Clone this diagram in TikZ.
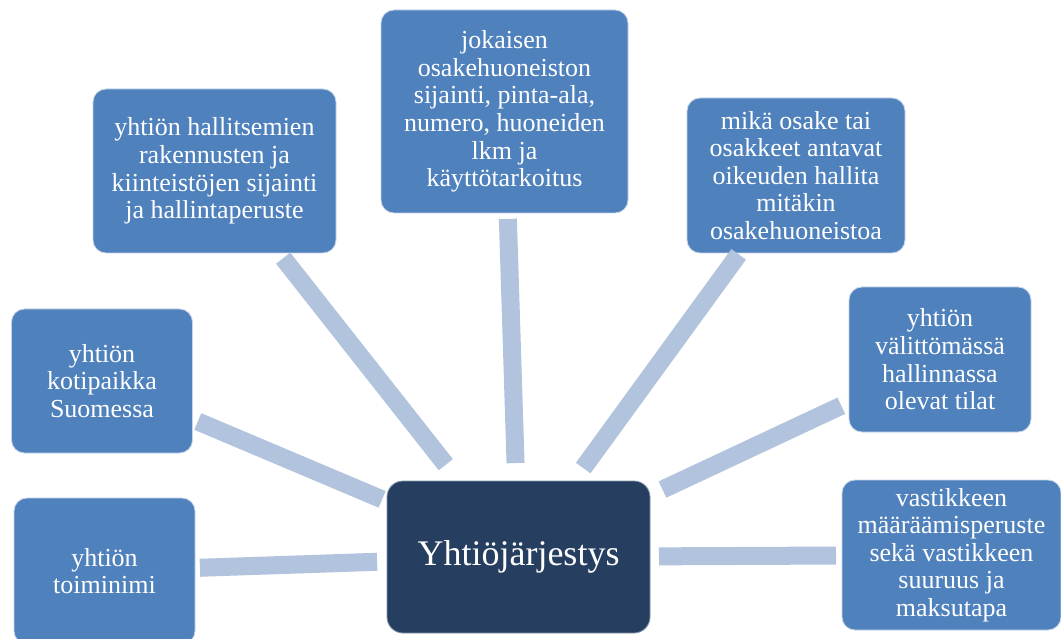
\documentclass[tikz,border=0pt]{standalone}
\usepackage{fontspec}
\setmainfont{Liberation Serif}
\definecolor{boxblue}{HTML}{4F81BD}
\definecolor{boxedge}{HTML}{C5D4EA}
\definecolor{hubblue}{HTML}{263F60}
\definecolor{hubedge}{HTML}{8294AC}
\definecolor{barblue}{HTML}{B1C3DD}
\tikzset{
  sat/.style={rectangle, rounded corners=13pt, fill=boxblue, draw=boxedge, line width=0.8pt,
    text=white, align=center, inner sep=0pt, font=\fontsize{26}{27.6}\selectfont},
  hub/.style={rectangle, rounded corners=16pt, fill=hubblue, draw=hubedge, line width=0.8pt,
    text=white, align=center, inner sep=0pt, font=\fontsize{36}{40}\selectfont},
  bar/.style={draw=barblue, line width=18pt, line cap=butt}
}
\begin{document}
\begin{tikzpicture}[x=1pt,y=-1pt]
\useasboundingbox (0,0) rectangle (1061,639);
\fill[white] (0,0) rectangle (1061,639);

\node[hub, minimum width=263pt, minimum height=152pt] (C) at (518.5,557) {Yhtiöjärjestys};

\node[sat, minimum width=181pt, minimum height=146pt] (T) at (104.5,571) {yhtiön\\toiminimi};
\node[sat, minimum width=181pt, minimum height=144pt] (K) at (102,381) {yhtiön\\kotipaikka\\Suomessa};
\node[sat, minimum width=243pt, minimum height=164pt] (H) at (214.5,171) {yhtiön hallitsemien\\rakennusten ja\\kiinteistöjen sijainti\\ja hallintaperuste};
\node[sat, minimum width=247pt, minimum height=203pt] (J) at (504.5,111.5) {jokaisen\\osakehuoneiston\\sijainti, pinta-ala,\\numero, huoneiden\\lkm ja\\käyttötarkoitus};
\node[sat, minimum width=218pt, minimum height=155pt] (M) at (796,175.5) {mikä osake tai\\osakkeet antavat\\oikeuden hallita\\mitäkin\\osakehuoneistoa};
\node[sat, minimum width=182pt, minimum height=145pt] (V) at (940,359.5) {yhtiön\\välittömässä\\hallinnassa\\olevat tilat};
\node[sat, minimum width=219pt, minimum height=150pt] (W) at (951.5,555) {vastikkeen\\määräämisperuste\\sekä vastikkeen\\suuruus ja\\maksutapa};

\draw[bar, shorten <=141.5pt, shorten >=95.5pt] (C.center) -- (T.center);
\draw[bar, shorten <=148pt, shorten >=104pt] (C.center) -- (K.center);
\draw[bar, shorten <=117.5pt, shorten >=111pt] (C.center) -- (H.center);
\draw[bar, shorten <=94pt, shorten >=107.5pt] (C.center) -- (J.center);
\draw[bar, shorten <=110pt, shorten >=97.5pt] (C.center) -- (M.center);
\draw[bar, shorten <=159pt, shorten >=109pt] (C.center) -- (V.center);
\draw[bar, shorten <=140.5pt, shorten >=115.5pt] (C.center) -- (W.center);
\end{tikzpicture}
\end{document}
